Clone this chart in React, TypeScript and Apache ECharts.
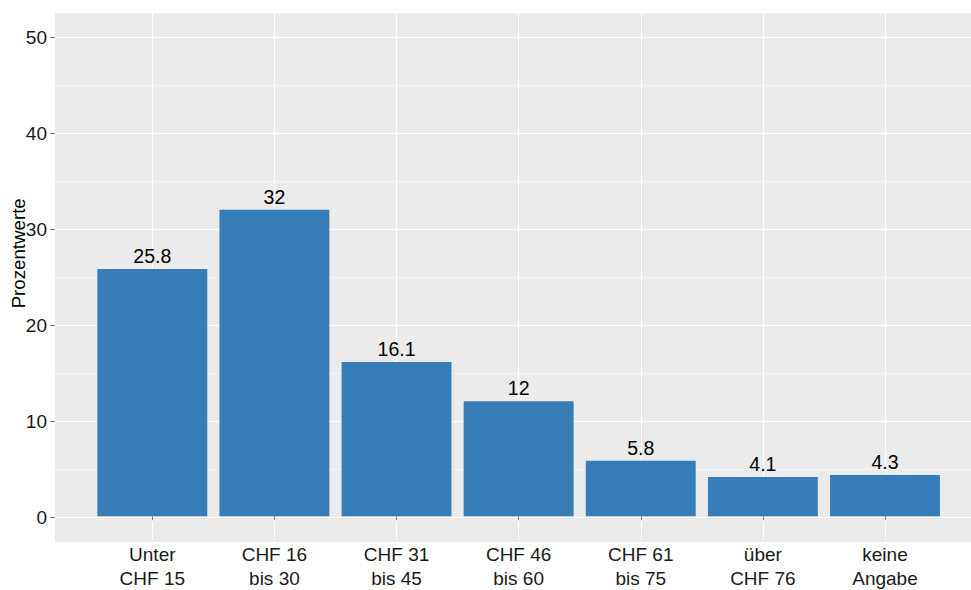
import React, { useEffect, useRef } from "react";
import * as echarts from "echarts";

const categories = [
  "Unter\nCHF 15",
  "CHF 16\nbis 30",
  "CHF 31\nbis 45",
  "CHF 46\nbis 60",
  "CHF 61\nbis 75",
  "über\nCHF 76",
  "keine\nAngabe",
];
const values = [25.8, 32, 16.1, 12, 5.8, 4.1, 4.3];
const yTickMin = 0;
const yTickMax = 50;
const yTickStep = 10;
const yExpand = 2.5;
const yTitle = "Prozentwerte";

const FONT = "'Liberation Sans', Arial, Helvetica, sans-serif";

export default function App() {
  const ref = useRef<HTMLDivElement>(null);
  useEffect(() => {
    if (!ref.current) return;
    const chart = echarts.init(ref.current, null, { renderer: "svg" });

    const panelTop = 13.3;
    const panelBottom = 541.7;
    const pxPerUnit = (panelBottom - panelTop) / (yTickMax - yTickMin + 2 * yExpand);
    const innerTop = panelTop + yExpand * pxPerUnit;
    const innerHeight = (yTickMax - yTickMin) * pxPerUnit;

    const option: any = {
      animation: false,
      backgroundColor: "#ffffff",
      textStyle: { fontFamily: FONT },
      graphic: [
        {
          type: "text",
          x: 18,
          y: 253.3,
          rotation: Math.PI / 2,
          style: {
            text: yTitle,
            fontSize: 18.7,
            fontFamily: FONT,
            fill: "#000",
            textAlign: "center",
            textVerticalAlign: "middle",
          },
        },
      ],
      grid: [
        {
          left: 55,
          right: 0,
          top: panelTop,
          height: panelBottom - panelTop,
          show: true,
          backgroundColor: "#EBEBEB",
          borderWidth: 0,
        },
        {
          left: 55,
          right: 0,
          top: innerTop,
          height: innerHeight,
        },
        {
          left: 152.3,
          right: 971 - 885,
          top: panelTop,
          height: panelBottom - panelTop,
        },
      ],
      xAxis: [
        { gridIndex: 0, type: "value", show: false },
        { gridIndex: 1, type: "value", show: false },
        {
          gridIndex: 2,
          type: "category",
          data: categories,
          boundaryGap: false,
          axisLine: { show: false },
          axisTick: { show: true, length: 4, lineStyle: { color: "#555", width: 0.8 } },
          axisLabel: {
            margin: 3,
            fontSize: 19,
            lineHeight: 23.4,
            color: "#1a1a1a",
            fontFamily: FONT,
            interval: 0,
          },
          splitLine: { show: true, lineStyle: { color: "#ffffff", width: 1.07 } },
        },
      ],
      yAxis: [
        { gridIndex: 0, type: "value", show: false },
        {
          gridIndex: 1,
          type: "value",
          min: yTickMin,
          max: yTickMax,
          interval: yTickStep,
          axisLine: { show: false },
          axisTick: { show: true, length: 4.5, lineStyle: { color: "#555", width: 0.8 } },
          axisLabel: { margin: 8, fontSize: 19, color: "#1a1a1a", fontFamily: FONT },
          splitLine: { show: true, lineStyle: { color: "#ffffff", width: 1.07 } },
          minorTick: { show: false, splitNumber: 2 },
          minorSplitLine: { show: true, lineStyle: { color: "#ffffff", width: 0.53 } },
        },
        {
          gridIndex: 2,
          type: "value",
          min: yTickMin - yExpand,
          max: yTickMax + yExpand,
          show: false,
        },
      ],
      series: [
        {
          type: "bar",
          xAxisIndex: 2,
          yAxisIndex: 2,
          data: values,
          barWidth: "90%",
          itemStyle: { color: "#377EB8" },
          label: {
            show: true,
            position: "top",
            distance: 3,
            fontSize: 19.5,
            color: "#000",
            fontFamily: FONT,
          },
        },
      ],
    };
    chart.setOption(option);
    return () => chart.dispose();
  }, []);

  return (
    <div
      ref={ref}
      style={{ position: "fixed", left: 0, top: 0, width: 971, height: 590 }}
    />
  );
}
